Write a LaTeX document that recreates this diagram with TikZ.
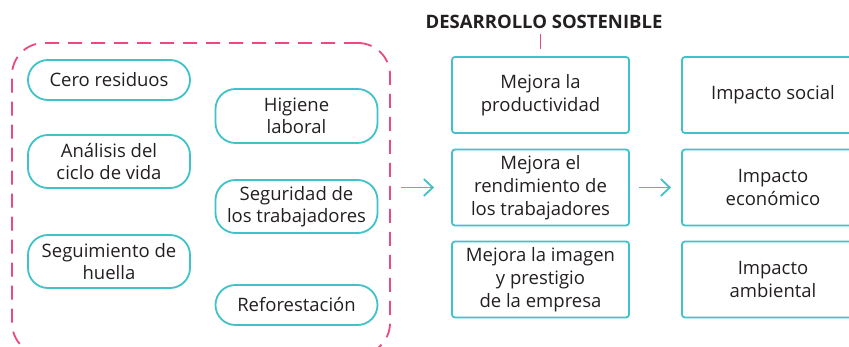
\documentclass[tikz,border=0pt]{standalone}
\usepackage{fontspec}
\setmainfont{Open Sans}
\usetikzlibrary{shapes,arrows.meta}

\definecolor{turq}{HTML}{3FC2C8}
\definecolor{rosa}{HTML}{E94A82}
\definecolor{ink}{HTML}{231F20}

\begin{document}
\begin{tikzpicture}[x=1pt,y=-1pt]
		\tikzstyle{pill} = [draw=turq, line width=1.8pt, rounded corners=20pt, minimum width=162pt, inner sep=1pt, align=center, text=ink, font=\fontsize{18.5}{22.5}\selectfont]
		\tikzstyle{box} = [draw=turq, line width=1.8pt, rounded corners=3pt, minimum height=76pt, inner sep=1pt, align=center, text=ink, font=\fontsize{18.5}{23}\selectfont]
		\tikzstyle{frame} = [draw=rosa, line width=1.8pt, dash pattern=on 14pt off 9pt, rounded corners=32pt, minimum width=378pt, minimum height=312pt]
		\tikzstyle{arrow} = [draw=turq, line width=1.8pt, -{Straight Barb[length=9pt,width=17pt]}]
		\useasboundingbox (0,0) rectangle (849,347);
		\clip (0,0) rectangle (849,347);

		% dashed frame
		\node[frame] (frame) at (201,199) {};

		% left column
		\foreach \name / \y / \h / \txt in {cero/80/40/Cero residuos, analisis/161.5/53/{Análisis del\\ciclo de vida}, huella/261.5/53/{Seguimiento de\\huella}}
			\node[pill, minimum height=\h pt] (\name) at (109,\y) {\txt};

		% right column
		\foreach \name / \y / \h / \txt in {higiene/116/54/{Higiene\\laboral}, seguridad/206.5/53/{Seguridad de\\los trabajadores}, refor/305/40/Reforestación}
			\node[pill, minimum height=\h pt] (\name) at (296.5,\y) {\txt};

		% middle boxes
		\node[box, minimum width=177pt] (mejora-1) at (540.5,95) {Mejora la\\productividad};
		\node[box, minimum width=177pt] (mejora-2) at (540.5,187.5) {Mejora el\\rendimiento de\\los trabajadores};
		\node[box, minimum width=177pt] (mejora-3) at (540.5,279.5) {Mejora la imagen\\y prestigio\\de la empresa};

		% impact boxes
		\node[box, minimum width=182pt] (impacto-1) at (773,95) {Impacto social};
		\node[box, minimum width=182pt] (impacto-2) at (773,187.5) {Impacto\\económico};
		\node[box, minimum width=182pt] (impacto-3) at (773,279.5) {Impacto\\ambiental};

		% title
		\node[text=ink, inner sep=1pt, font=\fontsize{18.5}{20}\selectfont\bfseries] (title) at (544,22) {DESARROLLO SOSTENIBLE};
		\draw[rosa, line width=1.8pt, shorten <=4pt, shorten >=7pt] (title.south -| mejora-1.north) -- (mejora-1.north);

		% connections
		\draw[arrow, shorten <=10pt, shorten >=17pt] (frame.east |- mejora-2.west) -- (mejora-2.west);
		\draw[arrow, shorten <=9pt, shorten >=10pt] (mejora-2.east) -- (impacto-2.west);
	\end{tikzpicture}
\end{document}
